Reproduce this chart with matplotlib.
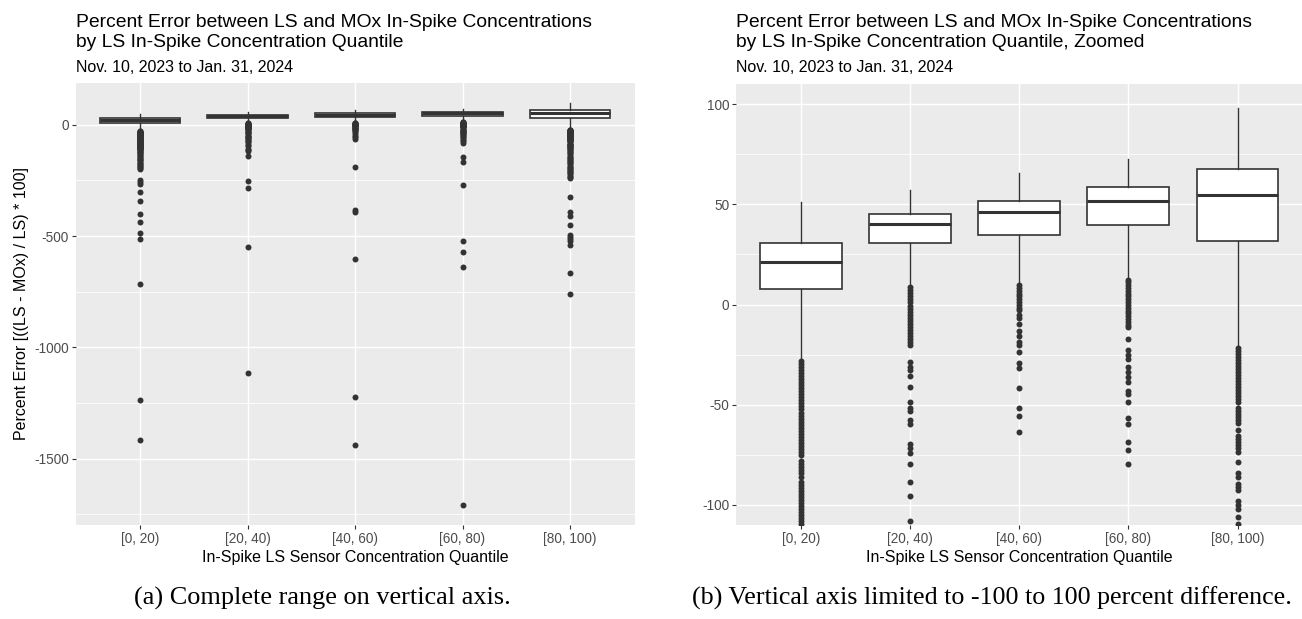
import matplotlib
matplotlib.use("Agg")
import matplotlib.pyplot as plt

plt.rcParams['font.family'] = ['Liberation Sans', 'DejaVu Sans']
plt.rcParams['axes.unicode_minus'] = False

quantiles = ['[0, 20)', '[20, 40)', '[40, 60)', '[60, 80)', '[80, 100)']

# box statistics (percent error)
whis_hi = [50.9, 57.0, 65.7, 72.5, 97.9]
q3 = [30.8, 45.3, 51.6, 58.4, 67.7]
med = [21.0, 40.0, 46.1, 51.6, 54.6]
q1 = [7.5, 30.5, 34.8, 39.8, 31.7]
whis_lo = [-27.0, 9.5, 10.5, 13.0, -21.0]

# outliers per quantile group
out_0_20 = [-28, -29.5, -31, -32.5, -34, -35.5, -37, -38.5, -40, -41.5, -43, -44.5,
            -46, -47.5, -49, -50.5, -52, -54, -55.5, -57, -58.5, -60, -61.5, -63,
            -64.5, -66, -67.5, -69, -70.5, -72, -73.5, -75, -78, -79.5, -81, -82.5,
            -84, -86, -88.5, -90, -91.5, -93, -94.5, -96, -97.5, -99, -100.5, -102,
            -103.5, -105, -106.5, -108, -109.5, -112, -116, -120, -124, -128, -132,
            -136, -140, -144, -148, -152, -156, -160, -165, -170, -175, -180, -185,
            -190, -195, -200, -250, -258, -268, -300, -343, -402, -435, -485, -512,
            -716, -1238, -1418]
out_20_40 = [8.5, 7, 5.5, 4, 2.5, 1, -0.5, -2, -3.5, -5, -6.5, -8, -9.5, -11, -12.5,
             -14, -15.5, -17, -18.5, -20, -28.5, -31, -32.6, -35.8, -41.2, -48.5,
             -51.7, -53, -57.5, -59.5, -69.4, -71.5, -74, -79.7, -88.4, -95.4, -107.8,
             -112, -117, -138, -253, -285, -547, -1113]
out_40_60 = [9.6, 8.2, 6.8, 5.4, 4, 2.6, 1.2, -0.2, -1.6, -2.8, -5.3, -6.5, -9.5,
             -13.1, -15.6, -18.9, -20.2, -23.5, -29.3, -31.8, -41.9, -51.7, -55.8,
             -63.8, -191, -381, -390, -601, -1225, -1439]
out_60_80 = [12.4, 11, 9.6, 8.2, 6.8, 5.4, 4, 2.6, 1.2, -0.2, -1.6, -3, -4.4, -5.8,
             -7.2, -8.6, -10, -11.1, -17.4, -22.7, -25, -27.3, -31.3, -33.5, -36,
             -38.6, -43.1, -44.7, -48.5, -56.5, -59.5, -68.4, -72.7, -79.8, -143,
             -167, -270, -523, -571, -639, -1708]
out_80_100 = [-21.5, -23, -24.5, -26, -27.5, -29, -30.5, -32, -33.5, -35, -36.5, -38,
              -39.5, -41, -42.5, -44, -45.5, -47, -48.4, -51.4, -53, -54.5, -56,
              -57.5, -59, -62.4, -65.4, -67, -68.5, -70, -71.5, -73.5, -78.7, -84,
              -86, -89.3, -91, -92.6, -98, -100, -101.8, -106.2, -109.3, -113, -118,
              -123, -128, -133, -138, -143, -148, -153, -158, -163, -168, -173, -178,
              -183, -188, -193, -198, -203, -208, -213, -218, -223, -228, -233, -238,
              -324, -393, -408, -452, -494, -503, -512, -520, -541, -667, -761]
outliers = [out_0_20, out_20_40, out_40_60, out_60_80, out_80_100]

title_line1 = 'Percent Error between LS and MOx In-Spike Concentrations'
title_line2a = 'by LS In-Spike Concentration Quantile'
title_line2b = 'by LS In-Spike Concentration Quantile, Zoomed'
subtitle = 'Nov. 10, 2023 to Jan. 31, 2024'
xlab = 'In-Spike LS Sensor Concentration Quantile'
ylab = 'Percent Error [((LS - MOx) / LS) * 100]'

W, H = 1302, 619
fig = plt.figure(figsize=(W / 100, H / 100), dpi=100)


def box_panel(rect, ylim, major, minor, line2):
    l, t, r, b = rect
    ax = fig.add_axes([l / W, 1 - b / H, (r - l) / W, (b - t) / H])
    ax.set_facecolor('#EBEBEB')
    stats = []
    for i in range(len(quantiles)):
        stats.append(dict(med=med[i], q1=q1[i], q3=q3[i], whislo=whis_lo[i],
                          whishi=whis_hi[i], fliers=outliers[i]))
    ax.bxp(stats, positions=range(len(quantiles)), widths=0.75, showcaps=False,
           patch_artist=True,
           boxprops=dict(facecolor='white', edgecolor='#333333', linewidth=1.2),
           medianprops=dict(color='#333333', linewidth=2.2),
           whiskerprops=dict(color='#333333', linewidth=1.0),
           flierprops=dict(marker='o', markersize=4.3, markerfacecolor='#333333',
                           markeredgewidth=0, linestyle='none'),
           zorder=3)
    ax.set_xlim(-0.6, len(quantiles) - 0.4)
    ax.set_ylim(*ylim)
    ax.set_yticks(major)
    ax.set_yticks(minor, minor=True)
    ax.set_xticks(range(len(quantiles)))
    ax.set_xticklabels(quantiles)
    ax.grid(True, which='major', color='white', linewidth=1.05, zorder=0)
    ax.grid(True, which='minor', axis='y', color='white', linewidth=0.55, zorder=0)
    ax.set_axisbelow(True)
    for s in ax.spines.values():
        s.set_visible(False)
    ax.tick_params(which='major', length=2.7, width=0.8, color='#333333',
                   labelcolor='#4D4D4D', labelsize=9.8, pad=2)
    ax.tick_params(which='minor', length=0)
    ax.set_xlabel(xlab, fontsize=11.5, labelpad=3)
    fig.text(l / W, 1 - 26.7 / H, title_line1, fontsize=13.9, ha='left', va='baseline')
    fig.text(l / W, 1 - 46.7 / H, line2, fontsize=13.9, ha='left', va='baseline')
    fig.text(l / W, 1 - 72.5 / H, subtitle, fontsize=11.5, ha='left', va='baseline')
    return ax


ax1 = box_panel((75.5, 83, 634.5, 525), (-1798, 188), [0, -500, -1000, -1500],
                [-1750, -1250, -750, -250], title_line2a)
ax1.set_ylabel(ylab, fontsize=11.5, labelpad=4)

ax2 = box_panel((735.6, 84, 1303, 525), (-110, 110), [-100, -50, 0, 50, 100],
                [-75, -25, 25, 75], title_line2b)

fig.text(322 / W, 1 - 598 / H, '(a) Complete range on vertical axis.',
         family='Liberation Serif', fontsize=18.9, ha='center', va='center')
fig.text(992 / W, 1 - 598 / H, '(b) Vertical axis limited to -100 to 100 percent difference.',
         family='Liberation Serif', fontsize=18.7, ha='center', va='center')

fig.savefig('out.png', dpi=100)
